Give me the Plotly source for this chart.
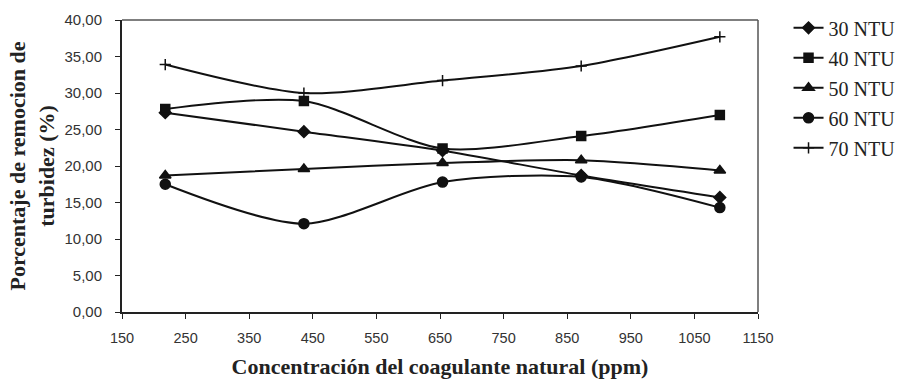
import plotly.graph_objects as go

x_ppm = [218, 436, 654, 872, 1090]
series_names = ["30 NTU", "40 NTU", "50 NTU", "60 NTU", "70 NTU"]
ntu30 = [27.3, 24.7, 22.1, 18.7, 15.7]
ntu40 = [27.8, 28.9, 22.4, 24.1, 27.0]
ntu50 = [18.7, 19.6, 20.4, 20.8, 19.4]
ntu60 = [17.5, 12.1, 17.8, 18.5, 14.3]
ntu70 = [33.9, 30.0, 31.7, 33.7, 37.7]
series_values = [ntu30, ntu40, ntu50, ntu60, ntu70]
markers = ["diamond", "square", "triangle-up", "circle", "cross-thin"]
msizes = [9, 9, 10, 10, 8]

fig = go.Figure()
for i, (name, vals) in enumerate(zip(series_names, series_values)):
    fig.add_trace(go.Scatter(
        x=x_ppm, y=vals, name=name, mode="lines+markers",
        line=dict(color="#111111", width=2, shape="spline", smoothing=0.8),
        marker=dict(symbol=markers[i], size=msizes[i], color="#111111",
                    line=dict(color="#111111", width=1.5)),
        legendgroup=f"g{i}",
    ))

serif = "Liberation Serif, Times New Roman, serif"
sans = "Liberation Sans, Arial, sans-serif"

fig.update_layout(
    width=903, height=379,
    margin=dict(l=122, r=145, t=20, b=67, autoexpand=False),
    paper_bgcolor="white", plot_bgcolor="white",
    separators=",.",
    showlegend=True,
    legend=dict(x=1.048, xanchor="left", y=1.040, yanchor="top", xref="paper",
                font=dict(family=serif, size=20, color="#222"),
                traceorder="grouped", tracegroupgap=1, bgcolor="rgba(0,0,0,0)"),
    xaxis=dict(range=[150, 1150], tickmode="linear", tick0=150, dtick=100, automargin=False,
               ticks="outside", ticklen=5, tickcolor="#222", showgrid=False, zeroline=False,
               showline=True, linecolor="#222", linewidth=2, ticklabelstandoff=7,
               tickfont=dict(family=sans, size=14.5, color="#333"),
               title=dict(text="<b>Concentración del coagulante natural (ppm)</b>",
                          font=dict(family=serif, size=22, color="#222"),
                          standoff=17)),
    yaxis=dict(range=[0, 40], tickmode="linear", tick0=0, dtick=5, tickformat=".2f", automargin=False,
               ticks="outside", ticklen=5, tickcolor="#222", showgrid=False, zeroline=False,
               showline=True, linecolor="#222", linewidth=2, ticklabelstandoff=10,
               tickfont=dict(family=sans, size=15, color="#333"),
               title=dict(text="<b>Porcentaje de remocion de<br>turbidez (%)</b>",
                          font=dict(family=serif, size=22, color="#222"),
                          standoff=4)),
)
fig.add_shape(type="line", xref="paper", yref="paper", x0=0, x1=1, y0=1, y1=1,
              line=dict(color="#555", width=1.5))
fig.add_shape(type="line", xref="paper", yref="paper", x0=1, x1=1, y0=0, y1=1,
              line=dict(color="#555", width=1.5))

fig.write_html("out.html")
